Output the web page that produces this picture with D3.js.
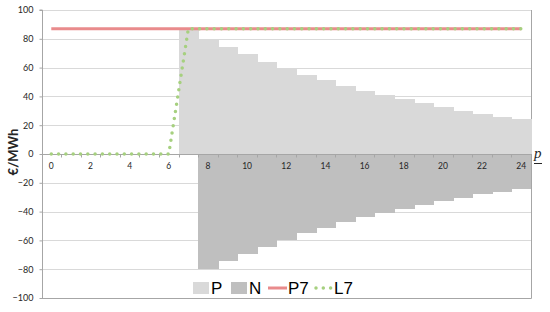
<!DOCTYPE html>
<html>
<head>
<meta charset="utf-8">
<script src="https://cdn.jsdelivr.net/npm/d3@7"></script>
<style>
  body { margin: 0; background: #fff; }
  svg { display: block; }
</style>
</head>
<body>
<script>
var width = 550, height = 312;

// hours / periods on the category axis
var periods = d3.range(0, 25);
var tickLabels = [0, 2, 4, 6, 8, 10, 12, 14, 16, 18, 20, 22, 24];

// series (null = no bar)
var pValues = [null, null, null, null, null, null, null, 86, 80, 74.5, 69.3, 64.2, 59.6, 55.2, 51.2, 47.5, 43.8, 40.8, 38.2, 35.3, 32.6, 30.2, 27.8, 25.9, 24.1];
var nValues = [null, null, null, null, null, null, null, null, -80, -74.6, -69.4, -64.3, -59.7, -55.1, -51.2, -47.5, -43.6, -41, -38.4, -35.4, -32.6, -30.3, -28, -26.1, -24.2];
var p7Values = [87, 87, 87, 87, 87, 87, 87, 87, 87, 87, 87, 87, 87, 87, 87, 87, 87, 87, 87, 87, 87, 87, 87, 87, 87];
var l7Values = [0, 0, 0, 0, 0, 0, 0, 87, 87, 87, 87, 87, 87, 87, 87, 87, 87, 87, 87, 87, 87, 87, 87, 87, 87];

var yTicks = [-100, -80, -60, -40, -20, 0, 20, 40, 60, 80, 100];

var colP = "#d9d9d9", colN = "#bfbfbf", colP7 = "#e98b8c", colL7 = "#a6d07f";
var font = "Lato, 'Open Sans', sans-serif";

var svg = d3.select("body").append("svg")
    .attr("width", width)
    .attr("height", height);

var x = d3.scaleBand()
    .domain(periods)
    .range([41.5, 531])
    .padding(0);

var y = d3.scaleLinear()
    .domain([-100, 100])
    .range([298, 10]);

// grid
svg.append("g")
    .selectAll("line")
    .data(yTicks)
    .enter().append("line")
    .attr("x1", 42).attr("x2", 531)
    .attr("y1", function(d){ return Math.round(y(d)) + 0.5 })
    .attr("y2", function(d){ return Math.round(y(d)) + 0.5 })
    .attr("stroke", "#d9d9d9")
    .attr("stroke-width", 1);

// plot border (right + bottom)
svg.append("line")
    .attr("x1", 531.5).attr("x2", 531.5)
    .attr("y1", y(100)).attr("y2", y(-100) + 0.5)
    .attr("stroke", "#a6a6a6");
svg.append("line")
    .attr("x1", 42).attr("x2", 531.5)
    .attr("y1", Math.round(y(-100)) + 0.5).attr("y2", Math.round(y(-100)) + 0.5)
    .attr("stroke", "#a6a6a6");

// bars P
svg.append("g")
    .attr("shape-rendering", "crispEdges")
    .selectAll("rect")
    .data(periods.filter(function(p){ return pValues[p] != null }))
    .enter().append("rect")
    .attr("x", function(p){ return x(p) })
    .attr("width", x.bandwidth() + 1)
    .attr("y", function(p){ return y(pValues[p]) })
    .attr("height", function(p){ return y(0) - y(pValues[p]) })
    .attr("fill", colP);

// bars N
svg.append("g")
    .attr("shape-rendering", "crispEdges")
    .selectAll("rect")
    .data(periods.filter(function(p){ return nValues[p] != null }))
    .enter().append("rect")
    .attr("x", function(p){ return x(p) })
    .attr("width", function(p){ return p == 24 ? x.bandwidth() : x.bandwidth() + 1 })
    .attr("y", y(0))
    .attr("height", function(p){ return y(nValues[p]) - y(0) })
    .attr("fill", colN);

// y axis
var yAxis = svg.append("g")
    .attr("transform", "translate(42.5,0)")
    .call(d3.axisLeft(y).tickValues(yTicks).tickSize(3).tickPadding(6));
yAxis.select(".domain").attr("stroke", "#a6a6a6").attr("d", "M-3," + y(100) + "H0V" + (y(-100) + 0.5));
yAxis.selectAll(".tick line").attr("stroke", "#a6a6a6");
yAxis.selectAll("text").attr("font-family", font).attr("font-size", 9).attr("fill", "#262626");

// x axis at zero
var x0 = Math.round(y(0)) + 0.5;
svg.append("line")
    .attr("x1", 42).attr("x2", 531)
    .attr("y1", x0).attr("y2", x0)
    .attr("stroke", "#a6a6a6");

var bounds = periods.map(function(p){ return x(p) }).concat([x(24) + x.bandwidth()]);
svg.append("g")
    .selectAll("line")
    .data(bounds)
    .enter().append("line")
    .attr("x1", function(d){ return Math.round(d) + 0.5 })
    .attr("x2", function(d){ return Math.round(d) + 0.5 })
    .attr("y1", x0).attr("y2", x0 + 3)
    .attr("stroke", "#a6a6a6");

var xAxis = svg.append("g")
    .attr("transform", "translate(0," + x0 + ")")
    .call(d3.axisBottom(x).tickValues(tickLabels).tickSize(0).tickPadding(8));
xAxis.select(".domain").remove();
xAxis.selectAll("text").attr("font-family", font).attr("font-size", 8.5).attr("fill", "#262626");

// lines
var line = d3.line()
    .x(function(d, i){ return x(periods[i]) + x.bandwidth() / 2 })
    .y(function(d){ return y(d) });

svg.append("path")
    .datum(p7Values)
    .attr("d", line)
    .attr("fill", "none")
    .attr("stroke", colP7)
    .attr("stroke-width", 3);

svg.append("path")
    .datum(l7Values)
    .attr("d", line)
    .attr("fill", "none")
    .attr("stroke", colL7)
    .attr("stroke-width", 3.5)
    .attr("stroke-linecap", "round")
    .attr("stroke-dasharray", "0 7.3");

// y title
svg.append("text")
    .attr("transform", "translate(18,152) rotate(-90)")
    .attr("text-anchor", "middle")
    .attr("font-family", font)
    .attr("font-weight", "bold")
    .attr("font-size", 13)
    .attr("fill", "#262626")
    .text("€/MWh");

// x title
svg.append("text")
    .attr("x", 534)
    .attr("y", 158)
    .attr("font-family", "'Liberation Serif', serif")
    .attr("font-style", "italic")
    .attr("font-size", 15)
    .attr("fill", "#262626")
    .text("p");
svg.append("line")
    .attr("x1", 534).attr("x2", 542)
    .attr("y1", 163.5).attr("y2", 163.5)
    .attr("stroke", "#262626")
    .attr("stroke-width", 1);

// legend
var legY = 288;
var legFont = "'Liberation Sans', Arial, sans-serif";
var legend = svg.append("g");

legend.append("rect").attr("x", 193).attr("y", legY - 6).attr("width", 16).attr("height", 12).attr("fill", colP);
legend.append("text").attr("x", 211).attr("y", legY + 6).text("P");
legend.append("rect").attr("x", 231).attr("y", legY - 6).attr("width", 16).attr("height", 12).attr("fill", colN);
legend.append("text").attr("x", 249).attr("y", legY + 6).text("N");
legend.append("line").attr("x1", 268).attr("x2", 287).attr("y1", legY).attr("y2", legY)
    .attr("stroke", colP7).attr("stroke-width", 3);
legend.append("text").attr("x", 288).attr("y", legY + 6).text("P7");
legend.append("line").attr("x1", 316).attr("x2", 331).attr("y1", legY).attr("y2", legY)
    .attr("stroke", colL7).attr("stroke-width", 3.5)
    .attr("stroke-linecap", "round").attr("stroke-dasharray", "0 7.3");
legend.append("text").attr("x", 334).attr("y", legY + 6).text("L7");

legend.selectAll("text")
    .attr("font-family", legFont)
    .attr("font-size", 17)
    .attr("fill", "#000");
</script>
</body>
</html>
